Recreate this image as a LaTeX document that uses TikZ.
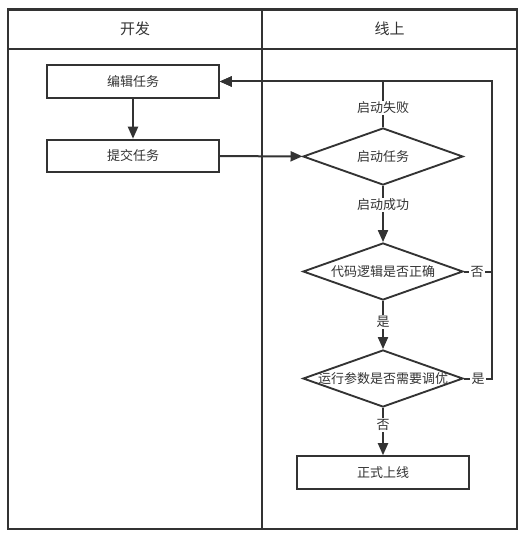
\documentclass[tikz,border=0pt]{standalone}
\usepackage{fontspec}
\setmainfont{Noto Sans CJK SC}
\usetikzlibrary{shapes.geometric,arrows.meta}
\definecolor{ln}{HTML}{333333}
\definecolor{tx}{HTML}{333333}
\begin{document}
\begin{tikzpicture}[x=0.75pt,y=-0.75pt,
  font=\fontsize{9.75pt}{11pt}\selectfont, text=tx,
  frame/.style={draw=ln,line width=1.6pt},
  box/.style={draw=ln,line width=1.4pt,rectangle,inner sep=0pt,minimum width=129pt,minimum height=24.5pt},
  dia/.style={draw=ln,line width=1.4pt,diamond,inner sep=0pt,minimum width=120pt,minimum height=42.75pt},
  conn/.style={draw=ln,line width=1.5pt,-{Triangle[length=9pt,width=7.5pt]}},
  lbl/.style={fill=white,inner sep=1pt},
  hdr/.style={font=\fontsize{11.25pt}{13pt}\selectfont}]
\useasboundingbox (0,0) rectangle (526,538);
\fill[white] (0,0) rectangle (526,538);
% swimlanes
\draw[frame] (8,9.5) rectangle (517,529);
\draw[frame] (8,49) -- (517,49);
\draw[frame] (262,9.5) -- (262,529);
\node[hdr] (hdev) at (135,29) {开发};
\node[hdr] (hon) at (389.5,29) {线上};
% nodes
\node[box] (edit) at (133,81.5) {编辑任务};
\node[box] (submit) at (133,156) {提交任务};
\node[dia] (start) at (383,156.5) {\makebox[0pt]{启动任务}};
\node[dia] (code) at (383,271.5) {\makebox[0pt]{代码逻辑是否正确}};
\node[dia] (param) at (383,378.5) {\makebox[0pt]{运行参数是否需要调优}};
\node[box] (online) at (383,472.5) {正式上线};
\coordinate (rx) at (491.5,0);
% connectors
\draw[conn] (edit) -- (submit);
\draw[conn] (submit) -- (start);
\draw[conn] (start.north) -- (start.north |- edit.east) -- (edit.east);
\draw[conn] (code.east) -- (code.east -| rx) -- (rx |- edit.east) -- (edit.east);
\draw[conn] (param.east) -- (param.east -| rx) -- (rx |- edit.east) -- (edit.east);
\draw[conn] (start) -- (code);
\draw[conn] (code) -- (param);
\draw[conn] (param) -- (online);
% labels
\node[lbl] (lfail) at (383,108) {启动失败};
\node[lbl] (lok) at (383,205) {启动成功};
\node[lbl] (lyes1) at (383,322) {是};
\node[lbl] (lno2) at (383,425) {否};
\node[lbl] (lno1) at (477,271.5) {否};
\node[lbl] (lyes2) at (478,378.5) {是};
\end{tikzpicture}
\end{document}
